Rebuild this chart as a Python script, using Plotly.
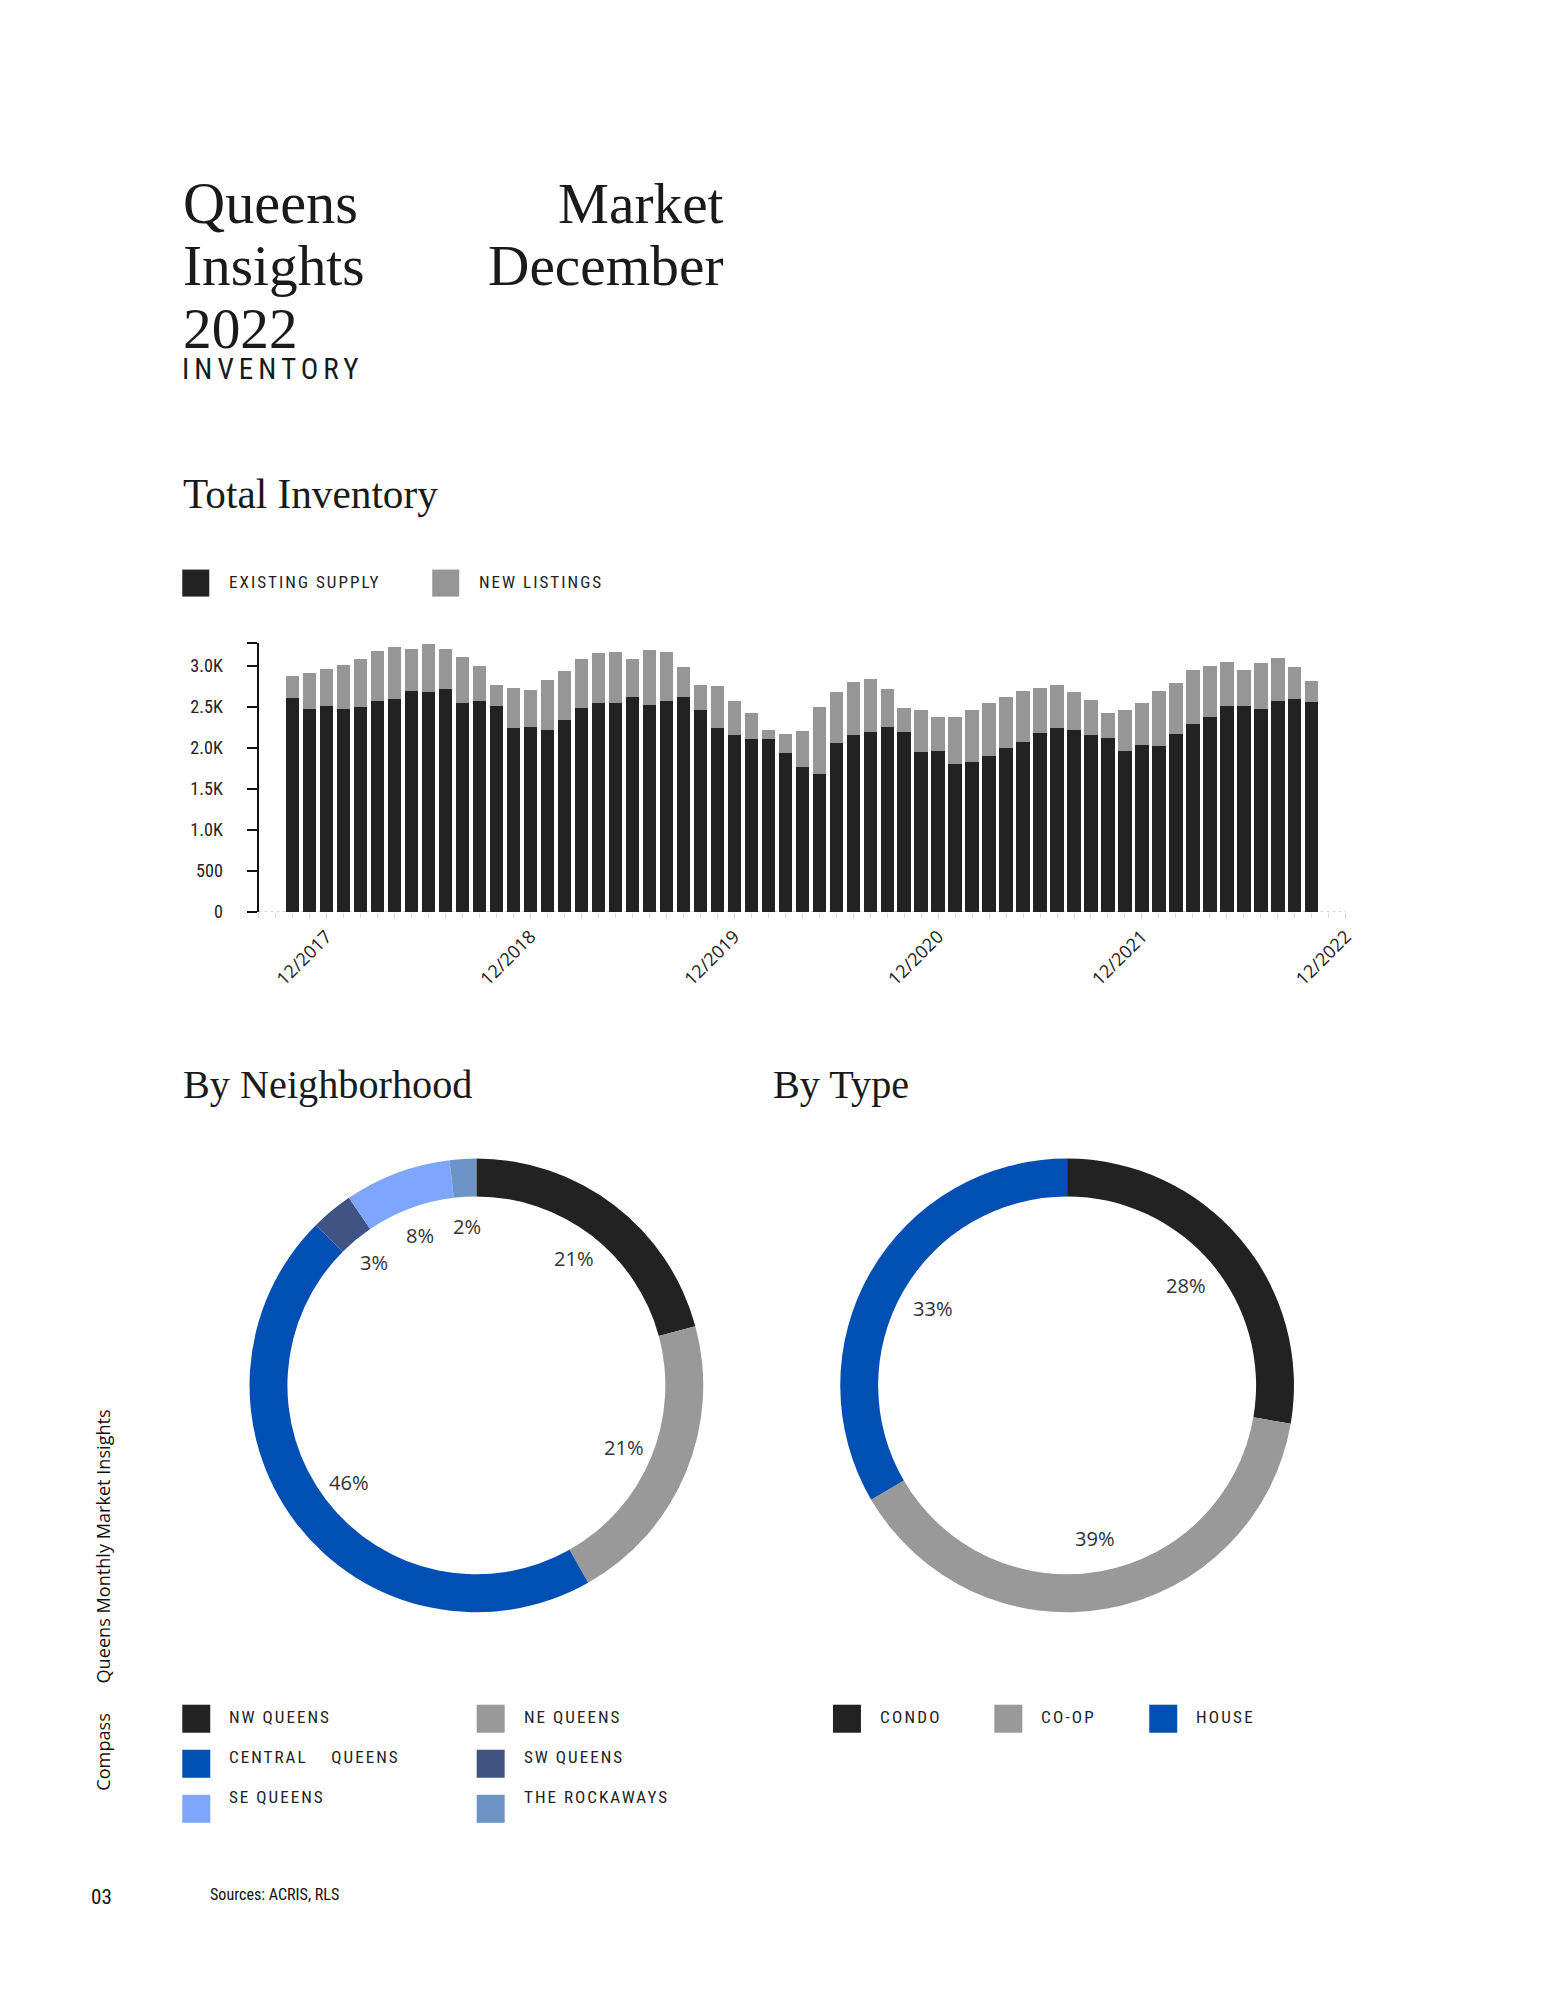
import math
import plotly.graph_objects as go

W, H = 1545, 2000          # reference page size (layout coordinates below are in these pixels)
K = 1.006                  # render-size compensation
FW, FH = round(W * K), round(H * K)

# ---------------- data ----------------
start_year, start_month = 2017, 10
months = []
for i in range(61):
    m = (start_month - 1 + i) % 12 + 1
    y = start_year + (start_month - 1 + i) // 12
    months.append(f"{m}/{y}")

existing_supply = [2604, 2469, 2506, 2474, 2502, 2571, 2592, 2690, 2677, 2718,
                   2551, 2575, 2506, 2241, 2249, 2217, 2335, 2482, 2547, 2547,
                   2624, 2518, 2571, 2616, 2457, 2237, 2152, 2103, 2111, 1936,
                   1764, 1679, 2058, 2152, 2200, 2249, 2200, 1948, 1960, 1805,
                   1830, 1899, 1993, 2070, 2180, 2241, 2217, 2156, 2119, 1960,
                   2037, 2025, 2168, 2290, 2376, 2506, 2514, 2478, 2575, 2600,
                   2563]
new_listings = [277, 445, 461, 533, 583, 612, 635, 513, 593, 489,
                558, 424, 261, 489, 461, 611, 603, 607, 607, 623,
                457, 681, 595, 375, 314, 514, 415, 326, 106, 232,
                437, 823, 619, 656, 636, 465, 286, 517, 420, 571,
                627, 652, 623, 619, 550, 526, 464, 423, 302, 501,
                514, 664, 623, 660, 627, 546, 440, 554, 526, 383,
                253]
tick_labels = ["12/2017", "12/2018", "12/2019", "12/2020", "12/2021", "12/2022"]
y_tick_values = [0, 500, 1000, 1500, 2000, 2500, 3000]
y_tick_labels = ["0", "500", "1.0K", "1.5K", "2.0K", "2.5K", "3.0K"]

hood_labels = ["NW QUEENS", "NE QUEENS", "CENTRAL QUEENS", "SW QUEENS", "SE QUEENS", "THE ROCKAWAYS"]
hood_values = [20.8, 21.0, 45.7, 3.0, 7.6, 1.9]
hood_colors = ["#222222", "#999999", "#004FB3", "#3F5482", "#7FA6FF", "#6C95C6"]

type_labels = ["CONDO", "CO-OP", "HOUSE"]
type_values = [27.7, 38.9, 33.4]
type_colors = ["#222222", "#999999", "#004FB3"]

# ---------------- helpers ----------------
SERIF = "Liberation Serif, DejaVu Serif, serif"
COND = "Liberation Sans Narrow, Roboto Condensed, Roboto, sans-serif"
SANS = "Open Sans, Noto Sans, sans-serif"


def px(x):
    return x / W


def py(y):
    return 1 - y / H


def fs(s):
    return round(s * K, 2)


def ls(text, sp):
    return f'<span style="letter-spacing:{sp * K:.2f}px">{text}</span>'


annotations = []
shapes = []


def text(x, y, t, size, family, color="#111111", xanchor="left", angle=0):
    annotations.append(dict(
        x=px(x), y=py(y), xref="paper", yref="paper", text=t, showarrow=False,
        xanchor=xanchor, yanchor="middle", textangle=angle, borderpad=0,
        font=dict(family=family, size=fs(size), color=color)))


def square(x, y, s, color):
    shapes.append(dict(type="rect", xref="paper", yref="paper",
                       x0=px(x), x1=px(x + s), y0=py(y + s), y1=py(y),
                       fillcolor=color, line=dict(width=0)))


# ---------------- figure ----------------
fig = go.Figure()

x_idx = list(range(len(months)))
fig.add_trace(go.Bar(x=x_idx, y=existing_supply, name="Existing Supply",
                     marker=dict(color="#222222", line=dict(width=0)),
                     hovertext=months, showlegend=False))
fig.add_trace(go.Bar(x=x_idx, y=new_listings, name="New Listings",
                     marker=dict(color="#969696", line=dict(width=0)),
                     hovertext=months, showlegend=False))


def month_index(label):
    m, y = label.split("/")
    return (int(y) - start_year) * 12 + int(m) - start_month


tick_vals = [month_index(t) for t in tick_labels]

# pies
HOLE = 0.833
R = 227
left_c = (476.7, 1384)
right_c = (1067.8, 1384)
for (cx, cy), labels, values, colors in [
        (left_c, hood_labels, hood_values, hood_colors),
        (right_c, type_labels, type_values, type_colors)]:
    fig.add_trace(go.Pie(labels=labels, values=values, hole=HOLE, sort=False,
                         direction="clockwise", rotation=0, textinfo="none",
                         marker=dict(colors=colors, line=dict(width=0)),
                         domain=dict(x=[px(cx - R), px(cx + R)], y=[py(cy + R), py(cy - R)]),
                         showlegend=False))


def pie_labels(center, values, r_lab):
    total = sum(values)
    cum = 0
    for v in values:
        mid = (cum + v / 2) / total * 2 * math.pi
        cum += v
        x = center[0] + r_lab * math.sin(mid)
        y = center[1] - r_lab * math.cos(mid)
        annotations.append(dict(
            x=px(x), y=py(y), xref="paper", yref="paper",
            text=f"{round(v / total * 100)}%", showarrow=False,
            xanchor="center", yanchor="middle",
            font=dict(family=SANS, size=fs(20), color="#333333")))


pie_labels(left_c, hood_values, 160)
pie_labels(right_c, type_values, 155)

# dotted x axis line
shapes.append(dict(type="line", xref="x", yref="y", x0=-2, x1=62, y0=0, y1=0,
                   line=dict(color="#cccccc", width=1.5, dash="dot"), layer="below"))

# titles
TITLE_C = "#1a1a1a"
text(182, 203, "Queens", 58, SERIF, TITLE_C)
text(182, 265, "Insights", 57, SERIF, TITLE_C)
text(182, 328, "2022", 57, SERIF, TITLE_C)
text(725, 203, "Market", 57, SERIF, TITLE_C, xanchor="right")
text(725, 265, "December", 57, SERIF, TITLE_C, xanchor="right")
text(181, 369, ls("INVENTORY", 5), 29, COND, TITLE_C)

text(182, 494, "Total Inventory", 41, SERIF, TITLE_C)
text(182, 1083, "By Neighborhood", 40, SERIF, TITLE_C)
text(773, 1083, "By Type", 40, SERIF, TITLE_C)

# bar legend
square(182.4, 569, 27, "#222222")
text(228.4, 581, ls("EXISTING SUPPLY", 2), 17, COND, "#222222")
square(432.5, 569, 27, "#969696")
text(478.4, 581, ls("NEW LISTINGS", 2), 17, COND, "#222222")

# neighborhood legend
hood_leg_text = ["NW QUEENS", "NE QUEENS", "CENTRAL\u00a0\u00a0\u00a0\u00a0QUEENS",
                 "SW QUEENS", "SE QUEENS", "THE ROCKAWAYS"]
rows_sq = [1703, 1748, 1793]
rows_tx = [1715, 1755, 1795]
cols_sq = [182.4, 477]
cols_tx = [228.4, 523.5]
for i, (lab, col) in enumerate(zip(hood_leg_text, hood_colors)):
    r, c = i // 2, i % 2
    square(cols_sq[c], rows_sq[r], 28, col)
    text(cols_tx[c], rows_tx[r], ls(lab, 2), 17, COND, "#222222")

# type legend
type_sq = [833.5, 995, 1150]
type_tx = [879.3, 1040.7, 1195.3]
for lab, col, xs, xt in zip(type_labels, type_colors, type_sq, type_tx):
    square(xs, 1703, 28, col)
    text(xt, 1715, ls(lab, 2.2), 17, COND, "#222222")

# side texts
text(103, 1545, "Queens Monthly Market Insights", 18, SANS, "#111111", xanchor="center", angle=-90)
text(103, 1750, "Compass", 18, SANS, "#111111", xanchor="center", angle=-90)
text(90, 1895, "03", 21, COND, "#111111")
text(209, 1893, "Sources: ACRIS, RLS", 16, COND, "#111111")

fig.update_layout(
    width=FW, height=FH, margin=dict(l=0, r=0, t=0, b=0),
    paper_bgcolor="white", plot_bgcolor="white",
    barmode="stack", bargap=0.22, showlegend=False,
    annotations=annotations, shapes=shapes,
    xaxis=dict(domain=[px(258.7), px(1346.7)], range=[-2, 62],
               tickvals=tick_vals, ticktext=tick_labels, tickangle=-45,
               ticks="outside", ticklen=6, tickcolor="#d0d0d0", tickwidth=1,
               minor=dict(dtick=1, tick0=0, ticks="outside", ticklen=5,
                          tickcolor="#d8d8d8", tickwidth=1),
               showline=False, showgrid=False, zeroline=False,
               tickfont=dict(family=SANS, size=fs(18), color="#222222")),
    yaxis=dict(domain=[py(911), py(642.7)], range=[0, 3275],
               tickvals=y_tick_values + [3275], ticktext=y_tick_labels + [""],
               ticks="outside", ticklen=10, tickwidth=2, tickcolor="#111111",
               showline=True, linecolor="#111111", linewidth=2,
               showgrid=False, zeroline=False, ticklabelstandoff=20,
               tickfont=dict(family=COND, size=fs(18), color="#222222")),
)

post = ("var s=document.documentElement.style;s.margin='0';s.padding='0';s.overflow='hidden';"
        "var b=document.body.style;b.margin='0';b.padding='0';b.overflow='hidden';")
fig.write_html("out.html", config={"displayModeBar": False}, post_script=post)
